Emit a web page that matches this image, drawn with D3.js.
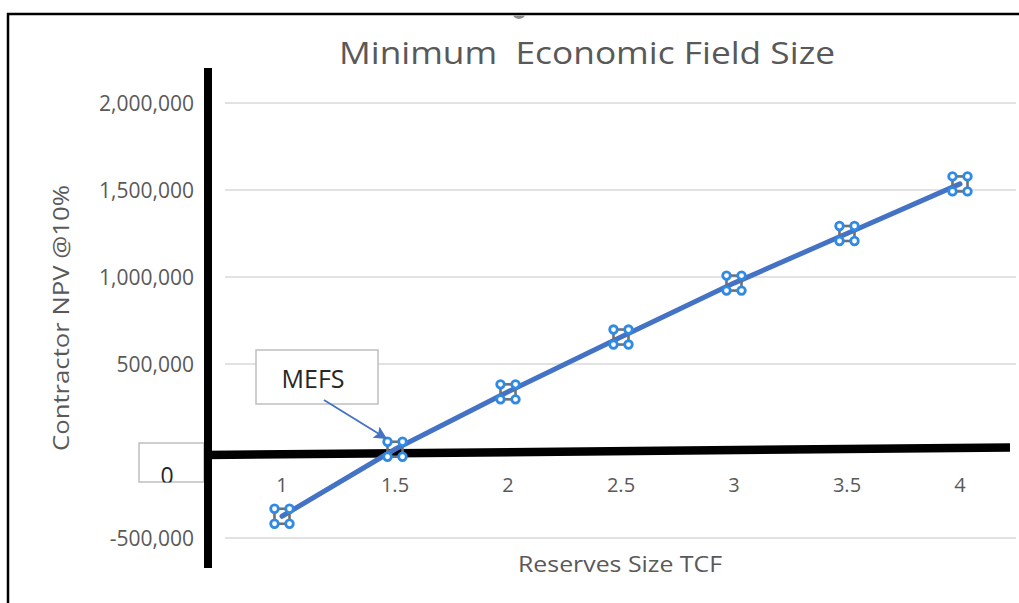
<!DOCTYPE html>
<html>
<head>
<meta charset="utf-8">
<script src="https://cdn.jsdelivr.net/npm/d3@7"></script>
<style>
  html, body { margin: 0; padding: 0; background: #fff; }
  svg { display: block; }
</style>
</head>
<body>
<svg id="chart" width="1019" height="603"></svg>
<script>
// Reserves size (TCF) and contractor NPV at 10% discount
const categories = ["1", "1.5", "2", "2.5", "3", "3.5", "4"];
const npvValues = [-375000, 10000, 340000, 655000, 965000, 1250000, 1535000];
const yTicks = [-500000, 500000, 1000000, 1500000, 2000000];

const svg = d3.select("#chart");
const W = 1019, H = 603;
const gray = "#595959";
const font = "'Open Sans', 'Liberation Sans', sans-serif";

const x = d3.scalePoint().domain(categories).range([225.5, 1016.5]).padding(0.5);
const y = d3.scaleLinear().domain([-500000, 2000000]).range([538, 103]);

// outer frame (top and left edges)
svg.append("path")
  .attr("d", `M8,${H} L8,14 L${W},14`)
  .attr("fill", "none").attr("stroke", "#000").attr("stroke-width", 2.5);

// small cut-off mark under the frame's top edge
svg.append("clipPath").attr("id", "topclip")
  .append("rect").attr("x", 0).attr("y", 15.5).attr("width", W).attr("height", 20);
svg.append("ellipse").attr("clip-path", "url(#topclip)")
  .attr("cx", 519).attr("cy", 14).attr("rx", 6).attr("ry", 5).attr("fill", "#8c8c8c");

// title
svg.append("text")
  .attr("x", 587).attr("y", 64)
  .attr("text-anchor", "middle")
  .attr("font-family", font).attr("font-size", 31).attr("fill", gray)
  .attr("textLength", 496).attr("lengthAdjust", "spacingAndGlyphs")
  .attr("xml:space", "preserve")
  .text("Minimum  Economic Field Size");

// horizontal gridlines
const plotLeft = 225, plotRight = 1016;
svg.append("g").selectAll("line")
  .data(yTicks)
  .join("line")
  .attr("x1", plotLeft).attr("x2", plotRight)
  .attr("y1", d => y(d)).attr("y2", d => y(d))
  .attr("stroke", "#d9d9d9").attr("stroke-width", 1.5);

// y tick labels (plain hyphen for negatives)
const fmt = d3.formatLocale({ decimal: ".", thousands: ",", grouping: [3], currency: ["", ""], minus: "-" }).format(",");
svg.append("g").selectAll("text")
  .data(yTicks)
  .join("text")
  .attr("x", 194).attr("y", d => y(d) + 7.5)
  .attr("text-anchor", "end")
  .attr("font-family", font).attr("font-size", 21).attr("fill", gray)
  .text(d => fmt(d));

// boxed zero label
svg.append("clipPath").attr("id", "zeroclip")
  .append("rect").attr("x", 139).attr("y", 443).attr("width", 65).attr("height", 39.5);
svg.append("rect")
  .attr("x", 139).attr("y", 443).attr("width", 65).attr("height", 39)
  .attr("fill", "#fff").attr("stroke", "#bfbfbf").attr("stroke-width", 1.5);
svg.append("text").attr("clip-path", "url(#zeroclip)")
  .attr("x", 167).attr("y", y(0) + 33)
  .attr("text-anchor", "middle")
  .attr("font-family", font).attr("font-size", 23).attr("fill", "#262626")
  .text("0");

// x tick labels
svg.append("g").selectAll("text")
  .data(categories)
  .join("text")
  .attr("x", d => x(d)).attr("y", 492)
  .attr("text-anchor", "middle")
  .attr("font-family", font).attr("font-size", 20).attr("fill", gray)
  .text(d => d);

// axis titles
svg.append("text")
  .attr("transform", "translate(69,318) rotate(-90)")
  .attr("text-anchor", "middle")
  .attr("font-family", font).attr("font-size", 21).attr("fill", gray)
  .attr("textLength", 266).attr("lengthAdjust", "spacingAndGlyphs")
  .text("Contractor NPV @10%");
svg.append("text")
  .attr("x", 620).attr("y", 572)
  .attr("text-anchor", "middle")
  .attr("font-family", font).attr("font-size", 21).attr("fill", gray)
  .attr("textLength", 204).attr("lengthAdjust", "spacingAndGlyphs")
  .text("Reserves Size TCF");

// heavy black axes
svg.append("line")
  .attr("x1", 205).attr("y1", y(0) + 4)
  .attr("x2", 1010).attr("y2", y(0) - 3.5)
  .attr("stroke", "#000").attr("stroke-width", 8.5);
svg.append("line")
  .attr("x1", 208).attr("x2", 208).attr("y1", 68).attr("y2", 568)
  .attr("stroke", "#000").attr("stroke-width", 8);

// NPV line
const pts = categories.map((c, i) => ({ c, v: npvValues[i] }));
svg.append("path")
  .datum(pts)
  .attr("fill", "none").attr("stroke", "#4472C4").attr("stroke-width", 5)
  .attr("stroke-linecap", "round")
  .attr("d", d3.line().x(d => x(d.c)).y(d => y(d.v)));

// handle-style markers
const off = 7.5;
const mk = svg.append("g").selectAll("g")
  .data(pts)
  .join("g")
  .attr("transform", d => `translate(${x(d.c)},${y(d.v)})`);
mk.append("rect")
  .attr("x", -off).attr("y", -off).attr("width", 2 * off).attr("height", 2 * off)
  .attr("fill", "none").attr("stroke", "#707070").attr("stroke-width", 2.6);
const corners = [[-off, -off], [off, -off], [-off, off], [off, off]];
mk.selectAll("circle")
  .data(corners)
  .join("circle")
  .attr("cx", d => d[0]).attr("cy", d => d[1]).attr("r", 3.8)
  .attr("fill", "#fff").attr("stroke", "#2f8ae5").attr("stroke-width", 2.8);

// MEFS callout
const defs = svg.append("defs");
defs.append("marker")
  .attr("id", "arrowhead").attr("viewBox", "0 0 10 10")
  .attr("refX", 9).attr("refY", 5)
  .attr("markerWidth", 18).attr("markerHeight", 13).attr("markerUnits", "userSpaceOnUse")
  .attr("orient", "auto")
  .append("path").attr("d", "M0,0 L10,5 L0,10 L2,5 Z").attr("fill", "#4472C4");
svg.append("rect")
  .attr("x", 256).attr("y", 350).attr("width", 122).attr("height", 54)
  .attr("fill", "#fff").attr("stroke", "#bfbfbf").attr("stroke-width", 1.5);
svg.append("text")
  .attr("x", 313).attr("y", 388)
  .attr("text-anchor", "middle")
  .attr("font-family", font).attr("font-size", 25).attr("fill", "#262626")
  .text("MEFS");
svg.append("line")
  .attr("x1", 324).attr("y1", 400)
  .attr("x2", x("1.5") - 9).attr("y2", y(npvValues[1]) - 11)
  .attr("stroke", "#4472C4").attr("stroke-width", 1.8)
  .attr("marker-end", "url(#arrowhead)");
</script>
</body>
</html>
